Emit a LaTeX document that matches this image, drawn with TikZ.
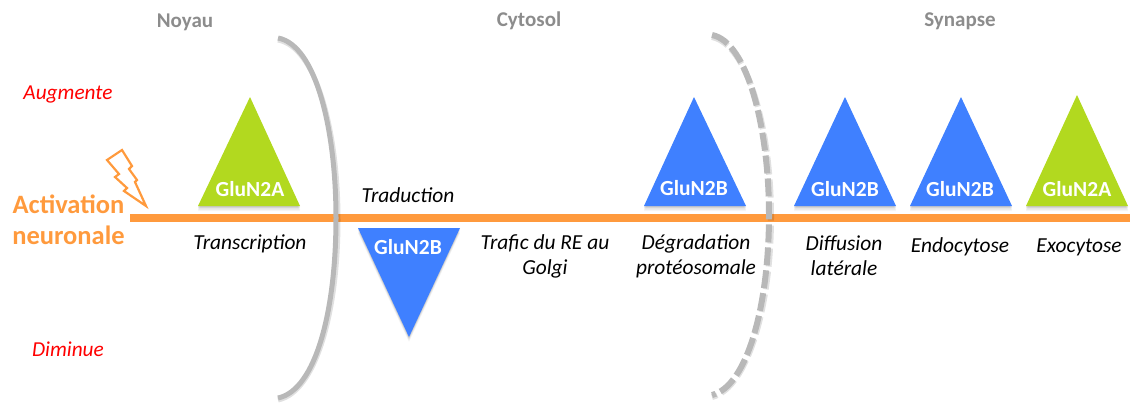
\documentclass[tikz,border=0pt]{standalone}
\usepackage{fontspec}
\setmainfont{Carlito}
\definecolor{tgreen}{HTML}{B2D91F}
\definecolor{tblue}{HTML}{3F80FF}
\definecolor{torange}{HTML}{FF9A3D}
\definecolor{tgray}{HTML}{B8B8B8}
\definecolor{thead}{HTML}{8C8C8C}
\tikzset{
  softshadow/.style={preaction={fill=black,fill opacity=.07,transform canvas={yshift=-1pt}},
    preaction={fill=black,fill opacity=.07,transform canvas={yshift=-2pt}},
    preaction={fill=black,fill opacity=.06,transform canvas={yshift=-3.5pt}},
    preaction={fill=black,fill opacity=.04,transform canvas={yshift=-5pt}}},
  glu/.style={font=\fontsize{21.5}{24}\selectfont\bfseries,text=white,inner sep=0pt},
  proc/.style={font=\fontsize{21.4}{25}\selectfont\itshape,text=black,align=center,inner sep=0pt},
  zone/.style={font=\fontsize{21}{24}\selectfont\bfseries,text=thead,inner sep=0pt},
  level/.style={font=\fontsize{21.3}{24}\selectfont\itshape,text=red,inner sep=0pt},
  bracket/.style={draw=tgray,line width=5pt,line cap=butt},
}
\begin{document}
\begin{tikzpicture}[x=1pt,y=-1pt]
\useasboundingbox (0,0) rectangle (1130,405);
% triangles
\path[fill=tgreen,softshadow] (250,97) -- (300,206) -- (198,206) -- cycle;
\path[fill=tblue,softshadow] (358,228) -- (460,228) -- (409,337) -- cycle;
\path[fill=tblue,softshadow] (694,97) -- (746,206) -- (644,206) -- cycle;
\path[fill=tblue,softshadow] (845,97) -- (896,206) -- (794,206) -- cycle;
\path[fill=tblue,softshadow] (961,97) -- (1012,206) -- (910,206) -- cycle;
\path[fill=tgreen,softshadow] (1077,95) -- (1128,206) -- (1026,206) -- cycle;
% axis
\coordinate (axisL) at (130,218);
\coordinate (axisR) at (1130,218);
\draw[torange,line width=8pt] (axisL) -- (axisR);
% brackets
\draw[black,opacity=.12,line width=5pt] (278,40) .. controls (316,47) and (338,130) .. (338,220) .. controls (338,312) and (316,392) .. (278,400);
\draw[bracket] (278,38) .. controls (316,45) and (336,130) .. (336,218) .. controls (336,310) and (316,390) .. (278,398);
\draw[black,opacity=.12,line width=6pt,dash pattern=on 18pt off 5pt] (712,37) .. controls (748,44) and (771,130) .. (771,217) .. controls (771,305) and (748,388) .. (712,397);
\draw[bracket,line width=6pt,dash pattern=on 18pt off 5pt] (712,35) .. controls (748,42) and (769,130) .. (769,215) .. controls (769,303) and (748,386) .. (712,395);
% bolt
\draw[torange,line width=2.2pt,line join=miter]
 (122,150) -- (107,160) -- (119,174) -- (115,177) -- (127,188) -- (124,191) -- (146,206) -- (135,182) -- (137,180) -- (129,169) -- (132,166) -- cycle;
% labels
\node[glu] (a1) at (250,189) {GluN2A};
\node[glu] (b1) at (408,247) {GluN2B};
\node[glu] (b2) at (694,188) {GluN2B};
\node[glu] (b3) at (845,189) {GluN2B};
\node[glu] (b4) at (960,189) {GluN2B};
\node[glu] (a2) at (1077,189) {GluN2A};
\node[proc] (p1) at (250,244) {Transcription};
\node[proc] (p2) at (408,195) {Traduction};
\node[proc] (p3) at (545,256) {Trafic du RE au\\Golgi};
\node[proc] (p4) at (696,256) {Dégradation\\protéosomale};
\node[proc] (p5) at (844,256) {Diffusion\\latérale};
\node[proc] (p6) at (960,247) {Endocytose};
\node[proc] (p7) at (1079,247) {Exocytose};
\node[zone] (z1) at (185,22) {Noyau};
\node[zone] (z2) at (529,21) {Cytosol};
\node[zone] (z3) at (960,21) {Synapse};
\node[level] (l1) at (68,94) {Augmente};
\node[level] (l2) at (68,349) {Diminue};
\node[font=\fontsize{26.5}{31}\selectfont\bfseries,text=torange,align=center,inner sep=0pt] (act) at (68.5,220) {Activation\\neuronale};
\end{tikzpicture}
\end{document}
